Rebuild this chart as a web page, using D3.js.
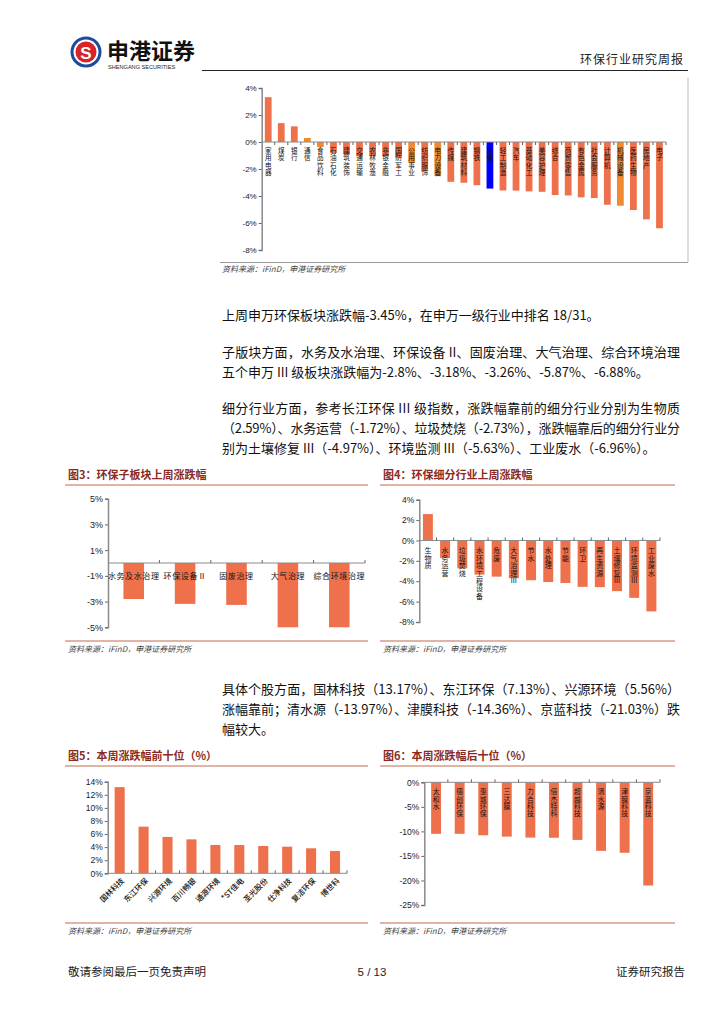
<!DOCTYPE html>
<html><head><meta charset="utf-8">
<script src="https://cdn.jsdelivr.net/npm/d3@7/dist/d3.min.js"></script>
<style>
body{margin:0;background:#fff;}
svg{display:block;}
</style></head>
<body>
<svg id="pg" width="724" height="1024"></svg>
<script>
// ---------- DATA ----------
const topCats = ["家用电器","煤炭","银行","通信","食品饮料","石油石化","建筑装饰","交通运输","农林牧渔","非银金融","国防军工","公用事业","纺织服饰","电力设备","传媒","建筑材料","钢铁","环保","轻工制造","汽车","基础化工","美容护理","综合","商贸零售","有色金属","社会服务","计算机","机械设备","医药生物","房地产","电子"];
const topVals = [3.32,1.40,1.16,0.30,-0.37,-0.81,-0.90,-1.06,-1.06,-1.06,-1.16,-1.55,-2.16,-2.53,-2.95,-3.02,-3.20,-3.45,-3.59,-3.60,-3.66,-3.69,-3.93,-3.96,-4.10,-4.15,-4.65,-4.72,-5.04,-5.73,-6.39];
const topOrange = ["通信","食品饮料","公用事业","电力设备","机械设备"];
const topBlue = ["环保"];
const topTicks = [4,2,0,-2,-4,-6,-8];

const subCats = ["水务及水治理","环保设备Ⅱ","固废治理","大气治理","综合环境治理"];
const subVals = [-2.8,-3.18,-3.26,-5.87,-6.88];
const subTicks = [5,3,1,-1,-3,-5];

const segCats = ["生物质","水务运营","垃圾焚烧","水环境工程设备","危废","大气治理Ⅲ","节水","水处理","节能","环卫","再生资源","土壤修复Ⅲ","环境监测Ⅲ","工业废水"];
const segVals = [2.59,-1.72,-2.73,-3.35,-3.55,-3.70,-3.90,-4.08,-4.17,-4.55,-4.58,-4.97,-5.63,-6.96];
const segTicks = [4,2,0,-2,-4,-6,-8];

const upCats = ["国林科技","东江环保","兴源环境","百川畅银","通源环境","*ST佳电","圣光股份","仕净科技","复洁环保","博世科"];
const upVals = [13.17,7.13,5.56,5.19,4.33,4.32,4.17,4.07,3.82,3.41];
const upTicks = [0,2,4,6,8,10,12,14];

const downCats = ["太和水","德创环保","惠城环保","三达膜","力合科技","倍杰特科","超越科技","清水源","津膜科技","京蓝科技"];
const downVals = [-10.5,-10.5,-10.8,-11.07,-11.27,-11.3,-11.74,-13.97,-14.36,-21.03];
const downTicks = [0,-5,-10,-15,-20,-25];

// ---------- STYLE ----------
const BAR = "#EF714B", ORANGE = "#F0892F", BLUE = "#0000FF";
const CJK = "'Noto Sans CJK SC','Noto Sans',sans-serif";
const LAT = "'Liberation Sans',Arial,sans-serif";
const TITLE_C = "#8A2A22", RULE_C = "#C4694C";

const svg = d3.select("#pg");

// ---------- HEADER ----------
const hdr = svg.append("g");
hdr.append("circle").attr("cx",86).attr("cy",52).attr("r",15.5).attr("fill","#1C4C9E");
hdr.append("circle").attr("cx",86).attr("cy",52).attr("r",12.5).attr("fill","#fff");
hdr.append("circle").attr("cx",86).attr("cy",52).attr("r",10.5).attr("fill","#D8232A");
hdr.append("text").attr("x",86).attr("y",58.5).attr("text-anchor","middle").attr("font-family",LAT).attr("font-weight","bold").attr("font-size",17).attr("fill","#fff").text("S");
hdr.append("text").attr("x",107).attr("y",59).attr("font-family",CJK).attr("font-weight","bold").attr("font-size",22).attr("fill","#111").text("申港证券");
hdr.append("text").attr("x",108).attr("y",69).attr("font-family",LAT).attr("font-size",5.6).attr("fill","#222").text("SHENGANG SECURITIES");
hdr.append("line").attr("x1",202).attr("x2",688).attr("y1",70.5).attr("y2",70.5).attr("stroke","#222").attr("stroke-width",1);
hdr.append("text").attr("x",684).attr("y",64).attr("text-anchor","end").attr("font-family",CJK).attr("font-size",12).attr("fill","#222").attr("letter-spacing",1).text("环保行业研究周报");

// ---------- FOOTER ----------
svg.append("text").attr("x",68).attr("y",976).attr("font-family",CJK).attr("font-size",11.5).attr("fill","#222").text("敬请参阅最后一页免责声明");
svg.append("text").attr("x",372).attr("y",976).attr("text-anchor","middle").attr("font-family",LAT).attr("font-size",11.5).attr("fill","#222").text("5 / 13");
svg.append("text").attr("x",685).attr("y",976).attr("text-anchor","end").attr("font-family",CJK).attr("font-size",11.5).attr("fill","#222").text("证券研究报告");

// ---------- BODY TEXT ----------
function para(lines, y0, lh){
  lines.forEach((l,i)=>{
    const t = svg.append("text").attr("x",222).attr("y",y0+i*lh).attr("font-family",CJK).attr("font-size",13).attr("fill","#111").text(l.t);
    if(l.j){ t.attr("textLength",458).attr("lengthAdjust","spacing"); }
  });
}
para([{t:"上周申万环保板块涨跌幅-3.45%，在申万一级行业中排名 18/31。"}],320,20);
para([{t:"子版块方面，水务及水治理、环保设备 II、固废治理、大气治理、综合环境治理",j:true},
      {t:"五个申万 III 级板块涨跌幅为-2.8%、-3.18%、-3.26%、-5.87%、-6.88%。"}],357,20);
para([{t:"细分行业方面，参考长江环保 III 级指数，涨跌幅靠前的细分行业分别为生物质",j:true},
      {t:"（2.59%）、水务运营（-1.72%）、垃圾焚烧（-2.73%），涨跌幅靠后的细分行业分",j:true},
      {t:"别为土壤修复 III（-4.97%）、环境监测 III（-5.63%）、工业废水（-6.96%）。"}],413,20);
para([{t:"具体个股方面，国林科技（13.17%）、东江环保（7.13%）、兴源环境（5.56%）",j:true},
      {t:"涨幅靠前；清水源（-13.97%）、津膜科技（-14.36%）、京蓝科技（-21.03%）跌",j:true},
      {t:"幅较大。"}],694,20);

// ---------- HELPERS ----------
function vtext(g, str, x, y0, step, size){
  g.append("text").attr("x",x).attr("y",y0)
    .style("writing-mode","vertical-rl").style("text-orientation","upright")
    .attr("letter-spacing",Math.max(0,step-size))
    .attr("font-family",CJK).attr("font-size",size).attr("fill","#111").text(str);
}
function yAxis(g, y, x0, ticks, fs){
  const ax = d3.axisLeft(y).tickValues(ticks).tickSize(3).tickFormat(d=>d+"%");
  const a = g.append("g").attr("transform",`translate(${x0},0)`).call(ax);
  a.select(".domain").attr("stroke","#8a8a8a").attr("stroke-width",1.5);
  a.selectAll(".tick line").attr("stroke","#666");
  a.selectAll(".tick text").attr("font-family",LAT).attr("font-size",fs).attr("fill","#222").attr("x",-5);
}
function xBase(g, x, y0, dir){
  const r = x.range();
  g.append("line").attr("x1",r[0]).attr("x2",r[1]).attr("y1",y0).attr("y2",y0).attr("stroke","#8a8a8a").attr("stroke-width",1);
  const n = x.domain().length;
  for(let i=1;i<=n;i++){
    const px = r[0]+i*x.step();
    g.append("line").attr("x1",px).attr("x2",px).attr("y1",y0).attr("y2",y0+dir*3).attr("stroke","#666");
  }
}
function frame(title, x0, x1, ty, by){
  svg.append("text").attr("x",x0+3).attr("y",ty).attr("font-family",CJK).attr("font-weight","bold").attr("font-size",11).attr("fill",TITLE_C).text(title);
  svg.append("line").attr("x1",x0).attr("x2",x1).attr("y1",ty+6).attr("y2",ty+6).attr("stroke",RULE_C).attr("stroke-width",1);
  svg.append("line").attr("x1",x0).attr("x2",x1).attr("y1",by).attr("y2",by).attr("stroke",RULE_C).attr("stroke-width",1);
  svg.append("text").attr("x",x0+3).attr("y",by+11).attr("font-family",CJK).attr("font-style","italic").attr("font-size",8).attr("fill","#444").text("资料来源：iFinD，申港证券研究所");
}

// ---------- TOP CHART ----------
{
  const g = svg.append("g");
  const x = d3.scaleBand().domain(topCats).range([261.7,666]).paddingInner(0.48).paddingOuter(0.24);
  const y = d3.scaleLinear().domain([-8,4]).range([250,88]);
  g.selectAll("rect").data(topCats).join("rect")
    .attr("x",d=>x(d)).attr("width",x.bandwidth())
    .attr("y",(d,i)=>y(Math.max(0,topVals[i]))).attr("height",(d,i)=>Math.abs(y(topVals[i])-y(0)))
    .attr("fill",d=>topBlue.includes(d)?BLUE:(topOrange.includes(d)?ORANGE:BAR));
  yAxis(g,y,261.7,topTicks,8);
  xBase(g,x,y(0),1);
  topCats.forEach(c=>vtext(g,c,x(c)+x.bandwidth()/2,y(0)+5,7.5,6.6));
  svg.append("line").attr("x1",220).attr("x2",688).attr("y1",262.5).attr("y2",262.5).attr("stroke","#999");
  svg.append("line").attr("x1",688).attr("x2",688).attr("y1",78).attr("y2",262.5).attr("stroke","#bbb");
  svg.append("text").attr("x",222).attr("y",272).attr("font-family",CJK).attr("font-style","italic").attr("font-size",8).attr("fill","#444").text("资料来源：iFinD，申港证券研究所");
}

// ---------- CHART 3 ----------
{
  frame("图3：环保子板块上周涨跌幅",65,368,479,641);
  const g = svg.append("g");
  const x = d3.scaleBand().domain(subCats).range([108,365]).paddingInner(0.6).paddingOuter(0.3);
  const y = d3.scaleLinear().domain([-5,5]).range([627.3,498.7]).clamp(true);
  g.selectAll("rect").data(subCats).join("rect")
    .attr("x",d=>x(d)).attr("width",x.bandwidth())
    .attr("y",y(0)).attr("height",(d,i)=>y(subVals[i])-y(0)).attr("fill",BAR);
  yAxis(g,y,108,subTicks,9);
  xBase(g,x,y(0),-1);
  subCats.forEach(c=>{
    g.append("text").attr("x",x(c)+x.bandwidth()/2).attr("y",y(0)+16).attr("text-anchor","middle")
      .attr("font-family",CJK).attr("font-size",8).attr("letter-spacing",0.6).attr("fill","#111").text(c);
  });
}

// ---------- CHART 4 ----------
{
  frame("图4：环保细分行业上周涨跌幅",380,675,479,641);
  const g = svg.append("g");
  const x = d3.scaleBand().domain(segCats).range([419.3,660]).paddingInner(0.42).paddingOuter(0.21);
  const y = d3.scaleLinear().domain([-8,4]).range([622,499.7]);
  g.selectAll("rect").data(segCats).join("rect")
    .attr("x",d=>x(d)).attr("width",x.bandwidth())
    .attr("y",(d,i)=>y(Math.max(0,segVals[i]))).attr("height",(d,i)=>Math.abs(y(segVals[i])-y(0))).attr("fill",BAR);
  yAxis(g,y,419.3,segTicks,8.5);
  xBase(g,x,y(0),-1);
  segCats.forEach(c=>vtext(g,c,x(c)+x.bandwidth()/2,y(0)+6.5,7.6,7));
}

// ---------- CHART 5 ----------
{
  frame("图5：本周涨跌幅前十位（%）",65,368,760,923);
  const g = svg.append("g");
  const x = d3.scaleBand().domain(upCats).range([107.7,347]).paddingInner(0.58).paddingOuter(0.29);
  const y = d3.scaleLinear().domain([0,14]).range([873.3,781.7]);
  g.selectAll("rect").data(upCats).join("rect")
    .attr("x",d=>x(d)).attr("width",x.bandwidth())
    .attr("y",(d,i)=>y(upVals[i])).attr("height",(d,i)=>y(0)-y(upVals[i])).attr("fill",BAR);
  yAxis(g,y,107.7,upTicks,8.5);
  xBase(g,x,y(0),-1);
  upCats.forEach(c=>{
    const cx = x(c)+x.bandwidth()/2+5;
    g.append("text").attr("transform",`translate(${cx},${y(0)+8}) rotate(-45)`).attr("text-anchor","end")
      .attr("font-family",CJK).attr("font-size",7.6).attr("font-weight","500").attr("fill","#111").text(c);
  });
}

// ---------- CHART 6 ----------
{
  frame("图6：本周涨跌幅后十位（%）",380,675,760,923);
  const g = svg.append("g");
  const x = d3.scaleBand().domain(downCats).range([424.3,660]).paddingInner(0.58).paddingOuter(0.29);
  const y = d3.scaleLinear().domain([-25,0]).range([905,782.3]);
  g.selectAll("rect").data(downCats).join("rect")
    .attr("x",d=>x(d)).attr("width",x.bandwidth())
    .attr("y",y(0)).attr("height",(d,i)=>y(downVals[i])-y(0)).attr("fill",BAR);
  yAxis(g,y,424.3,downTicks,8.5);
  xBase(g,x,y(0),-1);
  downCats.forEach(c=>vtext(g,c,x(c)+x.bandwidth()/2,y(0)+6,7.4,6.8));
}
</script>
</body></html>
